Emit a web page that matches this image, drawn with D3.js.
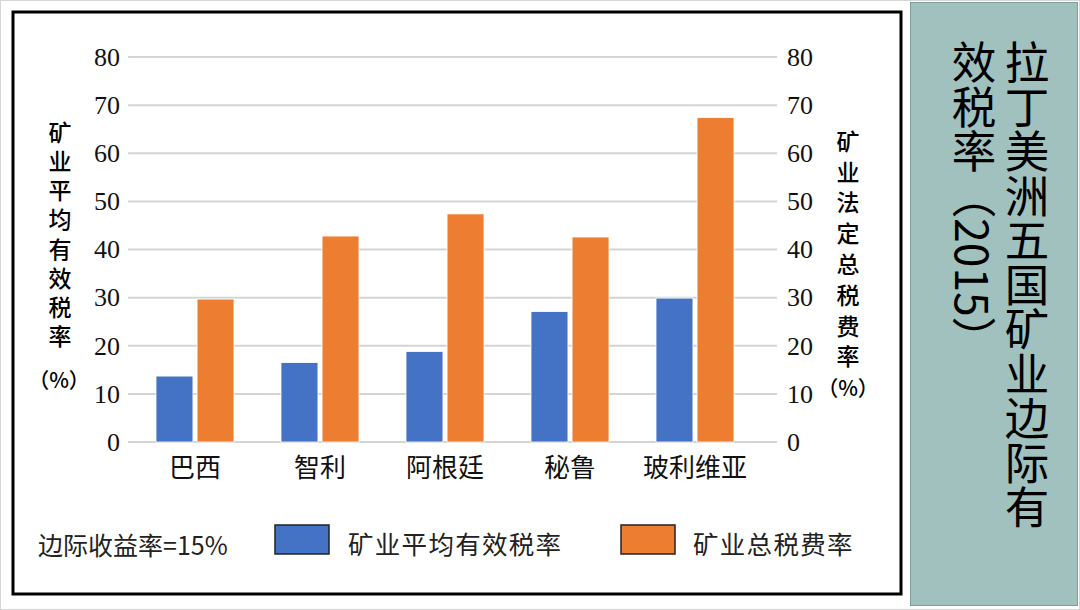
<!DOCTYPE html>
<html>
<head>
<meta charset="utf-8">
<script src="https://cdn.jsdelivr.net/npm/d3@7"></script>
<style>
  html, body { margin: 0; padding: 0; background: #ffffff; }
  svg { display: block; }
</style>
</head>
<body>
<script>
// ---- data ----
const categories = ["巴西", "智利", "阿根廷", "秘鲁", "玻利维亚"];
const seriesNames = ["矿业平均有效税率", "矿业总税费率"];
const avgEffectiveRate = [13.7, 16.5, 18.8, 27.1, 29.9];
const totalTaxRate = [29.7, 42.8, 47.4, 42.6, 67.4];
const yTicks = [0, 10, 20, 30, 40, 50, 60, 70, 80];
const leftTitle = "矿业平均有效税率";
const rightTitle = "矿业法定总税费率";
const unitLabel = "（%）";
const noteLabel = "边际收益率=15%";
const panelTitleCol1 = "拉丁美洲五国矿业边际有";
const panelTitleCol2 = "效税率（2015）";
const colors = ["#4472C4", "#ED7D31"];

const W = 1080, H = 610;
const svg = d3.select("body").append("svg").attr("width", W).attr("height", H);

// page border
svg.append("rect").attr("x", 0.5).attr("y", 0.5).attr("width", W - 1).attr("height", H - 1)
  .attr("fill", "#ffffff").attr("stroke", "#d6d6d6").attr("stroke-width", 1);

// main chart box
svg.append("rect").attr("x", 13).attr("y", 12).attr("width", 888).attr("height", 582)
  .attr("fill", "#ffffff").attr("stroke", "#000000").attr("stroke-width", 3);

// right panel
svg.append("rect").attr("x", 910.5).attr("y", 2.5).attr("width", 167).attr("height", 603)
  .attr("fill", "#a1c1bf").attr("stroke", "#7e9d9b").attr("stroke-width", 1);

const panelFont = "'Noto Sans CJK SC', 'Noto Sans', sans-serif";
svg.append("text").text(panelTitleCol1)
  .attr("x", 1027).attr("y", 40)
  .style("writing-mode", "vertical-rl")
  .attr("font-family", panelFont).attr("font-size", 44.5).attr("fill", "#000");
svg.append("text").text(panelTitleCol2)
  .attr("x", 974).attr("y", 40)
  .style("writing-mode", "vertical-rl")
  .attr("font-family", panelFont).attr("font-size", 44.5).attr("fill", "#000");

// ---- scales ----
const y = d3.scaleLinear().domain([0, 80]).range([442, 57]);
const x0 = d3.scaleBand().domain(categories).range([132.5, 757.5])
  .paddingInner(0.376).paddingOuter(0.188);
const x1 = d3.scaleBand().domain(seriesNames).range([0, x0.bandwidth()]).paddingInner(0.1);

// gridlines
svg.append("g").selectAll("line").data(yTicks).join("line")
  .attr("x1", 128).attr("x2", 777)
  .attr("y1", d => y(d)).attr("y2", d => y(d))
  .attr("stroke", "#d4d4d4").attr("stroke-width", 2);

// axes tick labels
const tickFont = "'Liberation Serif', 'Times New Roman', serif";
const leftAxis = d3.axisLeft(y).tickValues(yTicks).tickSize(0).tickPadding(0);
const gL = svg.append("g").attr("transform", "translate(120,0)").call(leftAxis);
gL.select(".domain").remove();
gL.selectAll("text").attr("font-family", tickFont).attr("font-size", 26).attr("fill", "#111");

const rightAxis = d3.axisRight(y).tickValues(yTicks).tickSize(0).tickPadding(0);
const gR = svg.append("g").attr("transform", "translate(787,0)").call(rightAxis);
gR.select(".domain").remove();
gR.selectAll("text").attr("font-family", tickFont).attr("font-size", 26).attr("fill", "#111");

// bars
const rows = categories.map((c, i) => ({ cat: c, vals: [avgEffectiveRate[i], totalTaxRate[i]] }));
const groups = svg.append("g").selectAll("g").data(rows).join("g")
  .attr("transform", d => `translate(${x0(d.cat)},0)`);
groups.selectAll("rect").data(d => d.vals.map((v, j) => ({ name: seriesNames[j], v, j })))
  .join("rect")
  .attr("x", d => x1(d.name))
  .attr("width", x1.bandwidth())
  .attr("y", d => y(d.v))
  .attr("height", d => y(0) - y(d.v))
  .attr("fill", d => colors[d.j])
  .attr("stroke", "#ffffff").attr("stroke-width", 0.8);

// category labels
const cjkFont = "'Noto Sans CJK SC', sans-serif";
const xAxis = d3.axisBottom(x0).tickSize(0).tickPadding(0);
const gX = svg.append("g").attr("transform", "translate(0,468)").call(xAxis);
gX.select(".domain").remove();
gX.selectAll("text").attr("font-family", cjkFont).attr("font-size", 26).attr("fill", "#111")
  .attr("dy", "0.35em").attr("y", 0);

// axis titles (vertical text)
function verticalTitle(str, cx, topY, size, spacing) {
  svg.append("text").text(str)
    .attr("x", cx).attr("y", topY)
    .style("writing-mode", "vertical-rl")
    .attr("letter-spacing", spacing)
    .attr("font-family", cjkFont).attr("font-size", size).attr("font-weight", 500).attr("fill", "#000");
}
verticalTitle(leftTitle, 60, 120.5, 23, 6.2);
verticalTitle(rightTitle, 848, 129.5, 23, 7.8);
svg.append("text").text(unitLabel).attr("x", 59).attr("y", 379)
  .attr("text-anchor", "middle").attr("dominant-baseline", "central")
  .attr("font-family", cjkFont).attr("font-size", 21).attr("font-weight", 500).attr("fill", "#000");
svg.append("text").text(unitLabel).attr("x", 848).attr("y", 387)
  .attr("text-anchor", "middle").attr("dominant-baseline", "central")
  .attr("font-family", cjkFont).attr("font-size", 21).attr("font-weight", 500).attr("fill", "#000");

// note
svg.append("text").text(noteLabel).attr("x", 38).attr("y", 544)
  .attr("dominant-baseline", "central")
  .attr("font-family", cjkFont).attr("font-size", 25).attr("fill", "#222");

// legend
const legendX = [275, 621];
const legendTextX = [348, 693];
seriesNames.forEach((name, j) => {
  svg.append("rect").attr("x", legendX[j]).attr("y", 525).attr("width", 54).attr("height", 29)
    .attr("fill", colors[j]).attr("stroke", "#222").attr("stroke-width", 1.5);
  svg.append("text").text(name).attr("x", legendTextX[j]).attr("y", 542)
    .attr("dominant-baseline", "central")
    .attr("font-family", cjkFont).attr("font-size", 25.5).attr("letter-spacing", 1.3).attr("fill", "#222");
});
</script>
</body>
</html>
